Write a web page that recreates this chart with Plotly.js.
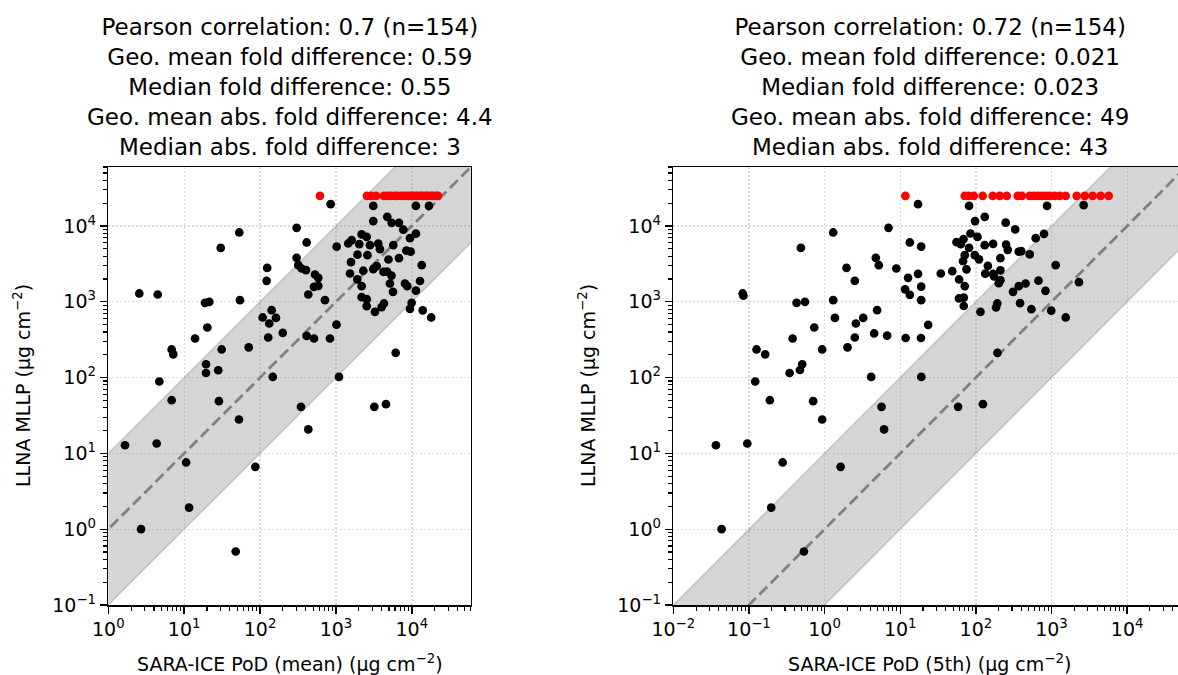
<!DOCTYPE html>
<html><head><meta charset="utf-8">
<script src="https://cdn.plot.ly/plotly-3.0.1.min.js"></script>
<style>html,body{margin:0;padding:0;overflow:hidden;background:#fff}#chart{width:1190px;height:675px}</style>
</head><body><div id="chart"></div>
<script>
// ---- data ----
const leftBlackX = [851,3100,11300,16800,3100,4740,5420,6760,7710,303,53.2,30.3,411,1021,1452,1610,2180,2540,2030,2805,3610,3800,5690,9440,11300,8490,9640,1920,2600,1577,4920,6760,3440,3100,2290,1530,4230,4700,5390,13500,303,319,353,403,529,585,124,122,1910,2180,5140,8110,8700,12800,5640,11300,513,585,432,716,2180,2540,2540,3265,4000,4290,9940,9440,13900,18000,2.56,4.48,54.3,18.8,21.4,20.2,108,142,132,162,199,128,411,513,834,1016,13.9,6.84,7.18,31.2,70.8,6120,19.4,19.4,28.1,4.70,147,1096,6.84,28.7,346,3200,4560,52.7,432,1.66,4.34,10.6,86.5,11.6,2.70,47.7];
const leftBlackY = [19400,18400,18400,18400,11600,13200,11000,11000,8940,9440,8210,5140,6060,5330,5880,6500,7730,7180,5750,5580,5840,4940,5580,6900,7910,4720,4580,4180,4120,3330,3610,3760,2950,2690,2570,2360,2480,2500,2210,3040,3800,3040,2750,2610,2290,2070,2800,1890,1975,1607,1743,1743,1607,1880,1352,1400,1573,1622,1248,1050,1150,1082,875,736,849,950,968,806,770,621,1287,1248,1050,968,997,458,621,775,517,613,389,338,355,328,328,499,328,235,202,235,250,212,150,115,125,88.8,102,102,50.3,48.8,41.1,41.1,44.6,28.0,20.7,12.8,13.5,7.59,6.64,1.93,1.0,0.508];
const leftRedX = [615,2560,2890,3365,4290,4840,5300,5990,6560,7410,8110,8890,9730,10300,11300,12000,13200,14000,15300,16300,17900,19000,20800,22100];
const leftRedY = [25000,25000,25000,25000,25000,25000,25000,25000,25000,25000,25000,25000,25000,25000,25000,25000,25000,25000,25000,25000,25000,25000,25000,25000];

const rightBlackX = [17.2,81.3,873,2660,97.5,131,248,331,7.0,1.30,0.486,13.4,18.9,55.5,63.2,68.6,84.9,105,81.3,131,169,251,264,369,398,515,618,796,71.3,96.8,110,67.7,211,144,133,169,174,75.2,211,1136,4.76,5.21,8.88,1.95,2.51,12.7,17.2,34.4,48.8,60.0,71.3,201,211,310,369,454,673,833,2307,991,0.0826,0.0845,0.426,0.550,1.30,11.6,13.4,18.9,18.9,59.8,69.2,69.2,115,185,192,384,542,1541,4.95,1.37,3.24,2.59,0.730,23.4,4.52,2.51,6.71,11.8,18.8,0.378,0.126,0.164,0.929,2.01,193,0.345,0.472,0.506,0.121,4.13,19.0,0.189,0.706,5.66,58.2,124,0.929,6.12,0.0366,0.0951,0.279,1.63,0.197,0.0435,0.533];
const rightBlackY = [19400,18400,18400,18800,11600,13200,11060,9000,9440,8210,5140,6060,5330,6110,5750,6700,7960,7180,5140,5580,5800,5670,4840,4580,4650,4220,6900,7870,4120,4120,3630,3430,3760,2970,2350,2330,2160,2680,2600,3040,3800,3040,2750,2800,1890,2070,2330,2360,2530,1970,1607,1760,1928,1352,1607,1743,1898,1393,1815,763,1287,1204,968,997,1050,1458,1234,1582,1050,1106,1133,880,736,841,950,959,798,621,775,613,613,517,458,496,382,338,357,333,333,328,235,202,235,250,212,115,126,150,88.8,102,102,50.3,48.8,41.1,41.1,44.6,28.0,20.7,12.8,13.5,7.59,6.64,1.93,1.0,0.508];
const rightRedX = [11.7,71.3,80.5,93.8,123,167,207,256,357,404,515,582,658,743,839,946,1102,1283,1540,2150,2750,3500,4470,5700];
const rightRedY = [25000,25000,25000,25000,25000,25000,25000,25000,25000,25000,25000,25000,25000,25000,25000,25000,25000,25000,25000,25000,25000,25000,25000,25000];

const leftTitle = ["Pearson correlation: 0.7 (n=154)","Geo. mean fold difference: 0.59","Median fold difference: 0.55","Geo. mean abs. fold difference: 4.4","Median abs. fold difference: 3"];
const rightTitle = ["Pearson correlation: 0.72 (n=154)","Geo. mean fold difference: 0.021","Median fold difference: 0.023","Geo. mean abs. fold difference: 49","Median abs. fold difference: 43"];
const leftXLabel = "SARA-ICE PoD (mean) (μg cm<sup>−2</sup>)";
const rightXLabel = "SARA-ICE PoD (5th) (μg cm<sup>−2</sup>)";
const yLabel = "LLNA MLLP (μg cm<sup>−2</sup>)";
const leftXTicks = [1,10,100,1000,10000];
const leftXTickText = ["10<sup>0</sup>","10<sup>1</sup>","10<sup>2</sup>","10<sup>3</sup>","10<sup>4</sup>"];
const rightXTicks = [0.01,0.1,1,10,100,1000,10000];
const rightXTickText = ["10<sup>−2</sup>","10<sup>−1</sup>","10<sup>0</sup>","10<sup>1</sup>","10<sup>2</sup>","10<sup>3</sup>","10<sup>4</sup>"];
const yTicks = [0.1,1,10,100,1000,10000];
const yTickText = ["10<sup>−1</sup>","10<sup>0</sup>","10<sup>1</sup>","10<sup>2</sup>","10<sup>3</sup>","10<sup>4</sup>"];
const FOLD = 10;

// ---- layout ----
const W = 1190, H = 675;
const FONT = "DejaVu Sans";
const leftDom = [108.3/W, 470.9/W];
const rightDom = [673.3/W, 1186/W];
const yDom = [70/H, 508/H];
const logMax = 4.778;

function axis(domain, range, vals, text, anchor) {
  return {
    type:'log', domain:domain, range:range, anchor:anchor,
    tickmode:'array', tickvals:vals, ticktext:text,
    ticks:'outside', ticklen:7, tickwidth:1.4, tickcolor:'#000',
    showline:true, linecolor:'#000', linewidth:1.5, mirror:true,
    showgrid:true, gridcolor:'rgba(176,176,176,0.45)', griddash:'1.5px,2.5px', gridwidth:1.3,
    zeroline:false, automargin:false, fixedrange:true,
    tickfont:{family:FONT, size:19, color:'#000'},
    minor:{ticks:'outside', ticklen:4, tickwidth:1.1, tickcolor:'#000', dtick:'D1', showgrid:false}
  };
}

function panel(bx, by, rx, ry, xa, ya) {
  const lo = 1e-4, hi = 1e7;
  return [
    {x:[lo,hi,hi,lo,lo], y:[lo*FOLD,hi*FOLD,hi/FOLD,lo/FOLD,lo*FOLD], xaxis:xa, yaxis:ya, mode:'lines', fill:'toself',
     fillcolor:'rgba(128,128,128,0.33)', line:{color:'rgba(128,128,128,0.35)', width:1.5}, hoverinfo:'skip'},
    {x:[lo,hi], y:[lo,hi], xaxis:xa, yaxis:ya, mode:'lines', line:{color:'rgb(128,128,128)', width:2.8, dash:'11px,5px'}, hoverinfo:'skip'},
    {x:bx, y:by, xaxis:xa, yaxis:ya, mode:'markers', marker:{color:'#000', size:8.7, line:{width:0}}},
    {x:rx, y:ry, xaxis:xa, yaxis:ya, mode:'markers', marker:{color:'#ff0000', size:8.7, line:{width:0}}}
  ];
}

const data = [].concat(
  panel(leftBlackX, leftBlackY, leftRedX, leftRedY, 'x', 'y'),
  panel(rightBlackX, rightBlackY, rightRedX, rightRedY, 'x2', 'y2')
);

const lc = (leftDom[0]+leftDom[1])/2, rc = (rightDom[0]+rightDom[1])/2;
const yc = (yDom[0]+yDom[1])/2;
function ann(text, x, y, size, angle) {
  return {text:text, x:x, y:y, xref:'paper', yref:'paper', showarrow:false, xanchor:'center', yanchor:'middle',
          textangle:angle||0, font:{family:FONT, size:size, color:'#000'}, align:'center'};
}

const layout = {
  width:W, height:H, margin:{l:0,r:0,t:0,b:0}, paper_bgcolor:'#fff', plot_bgcolor:'#fff',
  showlegend:false, hovermode:false,
  xaxis: axis(leftDom, [0, logMax], leftXTicks, leftXTickText, 'y'),
  yaxis: axis(yDom, [-1, logMax], yTicks, yTickText, 'x'),
  xaxis2: axis(rightDom, [-2, logMax], rightXTicks, rightXTickText, 'y2'),
  yaxis2: axis(yDom, [-1, logMax], yTicks, yTickText, 'x2'),
  annotations: [
    ann(leftTitle.join('<br>'), lc, (H-87)/H, 23),
    ann(rightTitle.join('<br>'), rc, (H-87)/H, 23),
    ann(leftXLabel, lc, (H-663)/H, 19),
    ann(rightXLabel, rc, (H-663)/H, 19),
    ann(yLabel, 22/W, yc, 19, -90),
    ann(yLabel, 587/W, yc, 19, -90)
  ]
};

Plotly.newPlot('chart', data, layout, {staticPlot:true, displayModeBar:false});
</script></body></html>
